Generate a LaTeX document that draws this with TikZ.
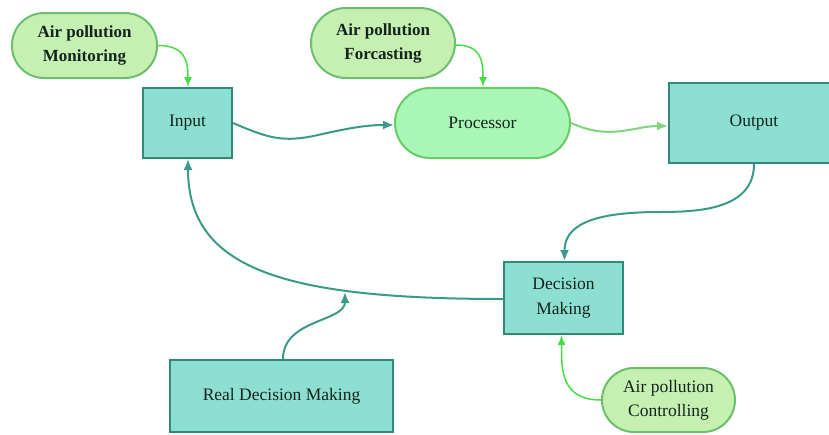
\documentclass[tikz,border=0pt]{standalone}
\usepackage{fontspec}
\setmainfont{Liberation Serif}
\usetikzlibrary{arrows.meta}
\definecolor{tealfill}{HTML}{8DDFD2}
\definecolor{tealdraw}{HTML}{2F8A78}
\definecolor{tealarrow}{HTML}{3A9A8A}
\definecolor{pillfill}{HTML}{C6EFB2}
\definecolor{pilldraw}{HTML}{6CBF6C}
\definecolor{procfill}{HTML}{AAF6B6}
\definecolor{procdraw}{HTML}{66CC66}
\definecolor{greenarrow}{HTML}{44DD44}
\definecolor{textcol}{HTML}{14241C}
\tikzset{
  tbox/.style={draw=tealdraw, fill=tealfill, line width=2pt, inner sep=0pt, text=textcol, align=center, font=\fontsize{17.5}{25}\selectfont},
  pill/.style={draw=pilldraw, fill=pillfill, line width=2pt, inner sep=0pt, text=textcol, align=center, font=\fontsize{17.5}{24}\selectfont},
  boldtext/.style={font=\fontsize{17}{24}\selectfont\bfseries},
  tarrow/.style={draw=tealarrow, line width=2pt, -{Latex[length=11pt,width=9pt]}},
  garrow/.style={draw=greenarrow, line width=1.5pt, -{Latex[length=10pt,width=8pt]}},
  parrow/.style={draw=procdraw!85!white, line width=2pt, -{Latex[length=11pt,width=9pt]}}
}
\begin{document}
\begin{tikzpicture}[x=1pt,y=-1pt]
\useasboundingbox (0,0) rectangle (829,434);
\begin{scope}
\clip (0,0) rectangle (829,434);
\node[tbox, minimum width=89pt, minimum height=70pt] (input) at (187.5,123) {Input};
\node[pill, boldtext, rounded corners=32pt, minimum width=145pt, minimum height=65pt] (mon) at (84.5,45.5) {Air pollution\\Monitoring};
\node[pill, boldtext, rounded corners=35pt, minimum width=144pt, minimum height=70pt] (fore) at (383,43) {Air pollution\\Forcasting};
\node[pill, draw=procdraw, fill=procfill, rounded corners=35pt, minimum width=175pt, minimum height=70pt] (proc) at (482.5,123) {Processor};
\node[tbox, minimum width=190pt, minimum height=80pt, text width=170pt] (out) at (764,123) {\hspace*{-10pt}Output\hspace*{10pt}};
\node[tbox, minimum width=119pt, minimum height=72pt] (dec) at (563.5,298) {Decision\\Making};
\node[tbox, minimum width=223pt, minimum height=72pt] (real) at (281.5,396) {Real Decision Making};
\node[pill, rounded corners=32pt, minimum width=133pt, minimum height=64pt] (ctrl) at (668.5,400) {Air pollution\\Controlling};
\end{scope}
\coordinate (join) at (345,292);
\coordinate (mid1) at (318,135);
\coordinate (mid2) at (660,212);
\draw[garrow] (mon.east) .. controls +(28,0) and +(0,-25) .. ([xshift=0.5pt]input.north);
\draw[garrow] ([yshift=-2pt]fore.east) .. controls +(26,0) and +(0,-25) .. ([xshift=0.5pt]proc.north);
\draw[tarrow] (input.east) .. controls +(35,15) and +(-35,8) .. (mid1) .. controls +(35,-8) and +(-25,0) .. ([yshift=-2pt]proc.west);
\draw[parrow] (proc.east) .. controls +(40,18) and +(-35,0) .. ([yshift=-3pt]out.west);
\draw[tarrow] ([xshift=-10pt]out.south) .. controls +(0,45) and +(40,0) .. (mid2) .. controls +(-70,0) and +(0,-35) .. ([xshift=1pt]dec.north);
\draw[tarrow] ([yshift=-1pt]dec.west) .. controls +(-220,0) and +(0,110) .. ([xshift=0.5pt]input.south);
\draw[tarrow] ([xshift=1.5pt]real.north) .. controls +(0,-40) and +(0,30) .. (join);
\draw[garrow] (ctrl.west) .. controls +(-40,0) and +(0,35) .. ([xshift=-2pt]dec.south);
\end{tikzpicture}
\end{document}
